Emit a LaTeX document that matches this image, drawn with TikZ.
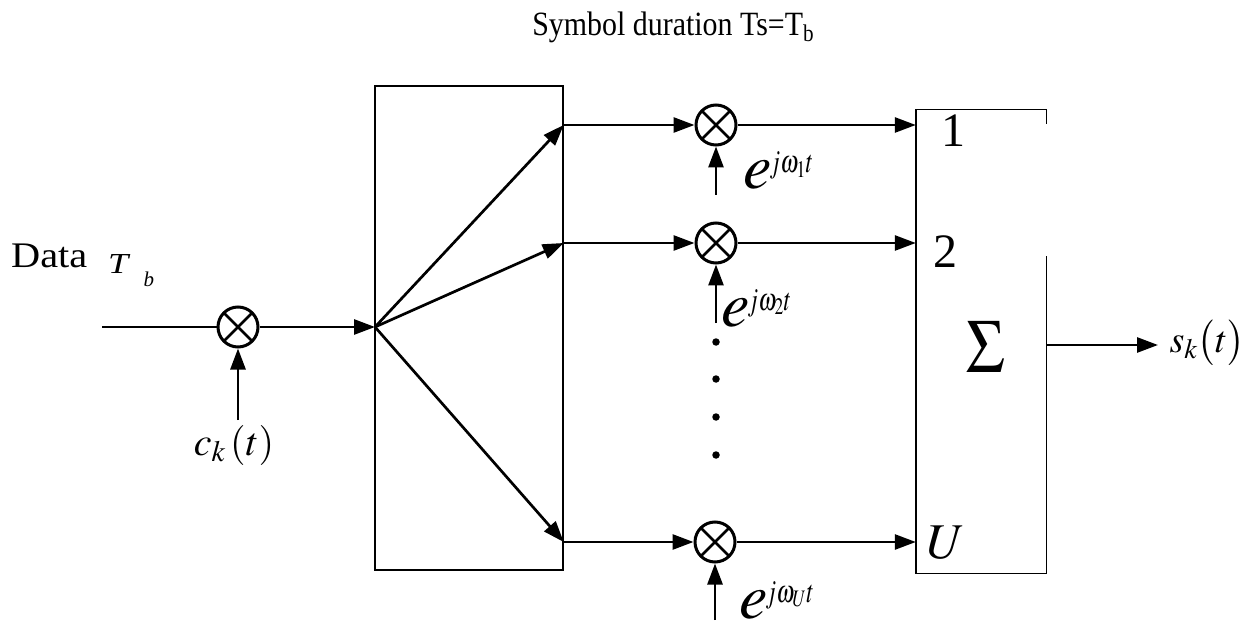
\documentclass[tikz,border=0pt]{standalone}
\usepackage{mathptmx}
\usepackage{fontspec}
\setmainfont{Liberation Serif}
\usetikzlibrary{arrows.meta}
\newcommand{\explbl}[1]{\fontsize{64}{64}\selectfont$e$\hspace{-2pt}\raisebox{16pt}{\scalebox{0.74}[1]{\fontsize{32}{32}\selectfont$j\omega_{#1}t$}}}
\tikzset{
  mix/.style={circle, draw, line width=3pt, minimum size=40pt, inner sep=0pt,
    path picture={\draw[line width=2.8pt] (path picture bounding box.north east) -- (path picture bounding box.south west)
      (path picture bounding box.north west) -- (path picture bounding box.south east);}},
  ln/.style={line width=2.7pt},
  arr/.style={ln, -{Triangle[length=21pt,width=15pt]}},
  boxline/.style={line width=1.4pt},
  dotn/.style={circle, fill, inner sep=0pt, minimum size=7.5pt},
  lbl/.style={inner sep=0pt}
}
\begin{document}
\begin{tikzpicture}[x=1pt,y=-1pt]
\useasboundingbox (0,0) rectangle (1247,628);
% title
\node[lbl, anchor=base] (title) at (673,36) {\scalebox{0.88}[1]{\fontsize{34}{36}\selectfont Symbol duration Ts=T\raisebox{-6pt}{\fontsize{24}{24}\selectfont b}}};
% input
\node[lbl, anchor=base west] (data) at (11,268) {\scalebox{1.12}[1]{\fontsize{36}{40}\selectfont Data}};
\node[lbl, anchor=base west] (tb) at (108,274) {\scalebox{1.25}[1]{\fontsize{29}{29}\selectfont\textit{T}}\hspace{13pt}\raisebox{-13pt}{\fontsize{21}{21}\selectfont\textit{b}}};
\coordinate (in) at (102,327);
\node[mix] (m0) at (238,327) {};
\coordinate (ck) at (238,420);
\node[lbl] (cklbl) at (234,445) {\fontsize{40}{40}\selectfont$c_k\left(t\right)$};
% splitter box
\node[draw, boxline, minimum width=188pt, minimum height=484pt, inner sep=0pt] (b1) at (469,328) {};
\coordinate (sp) at (375,327);
% mixers
\node[mix] (m1) at (716,125) {};
\node[mix] (m2) at (716,243) {};
\node[mix] (mU) at (715,542) {};
\coordinate (e1) at (716,195);
\coordinate (e2) at (716,323);
\coordinate (eU) at (715,620);
\node[lbl, anchor=base west] (l1) at (743,189) {\explbl{1}};
\node[lbl, anchor=base west] (l2) at (721,326) {\explbl{2}};
\node[lbl, anchor=base west] (lU) at (739,618) {\explbl{U}};
% dots
\node[dotn] (d1) at (716,342) {};
\node[dotn] (d2) at (716,379) {};
\node[dotn] (d3) at (716,417) {};
\node[dotn] (d4) at (716,455) {};
% summing box
\node[minimum width=130pt, minimum height=463pt, inner sep=0pt] (b2) at (981,341.5) {};
\draw[boxline] (b2.east |- 0,124) -- (b2.north east) -- (b2.north west) -- (b2.south west) -- (b2.south east) -- (b2.east |- 0,256);
\node[lbl] (n1) at (953,131) {\fontsize{48}{48}\selectfont 1};
\node[lbl] (n2) at (945,252) {\fontsize{48}{48}\selectfont 2};
\node[lbl] (nU) at (946,543) {\fontsize{50}{50}\selectfont$U$};
\node[lbl] (sig) at (986,347) {\scalebox{0.85}[1]{\fontsize{76}{76}\selectfont$\Sigma$}};
\coordinate (so) at (1158,345);
\node[lbl, anchor=east] (sk) at (1245,343) {\fontsize{38}{38}\selectfont$s_k\bigl(t\bigr)$};
% connectors
\draw[ln] (in) -- (m0.west);
\draw[arr] (ck) -- (m0.south);
\draw[arr] (m0.east) -- (sp);
\draw[arr] (sp) -- (b1.east |- m1);
\draw[arr] (sp) -- (b1.east |- m2);
\draw[arr] (sp) -- (b1.east |- mU);
\draw[arr] (b1.east |- m1) -- (m1.west);
\draw[arr] (b1.east |- m2) -- (m2.west);
\draw[arr] (b1.east |- mU) -- (mU.west);
\draw[arr] (e1) -- (m1.south);
\draw[arr] (e2) -- (m2.south);
\draw[arr] (eU) -- (mU.south);
\draw[arr] (m1.east) -- (m1.east -| b2.west);
\draw[arr] (m2.east) -- (m2.east -| b2.west);
\draw[arr] (mU.east) -- (mU.east -| b2.west);
\draw[arr] (so -| b2.east) -- (so);
\end{tikzpicture}
\end{document}
